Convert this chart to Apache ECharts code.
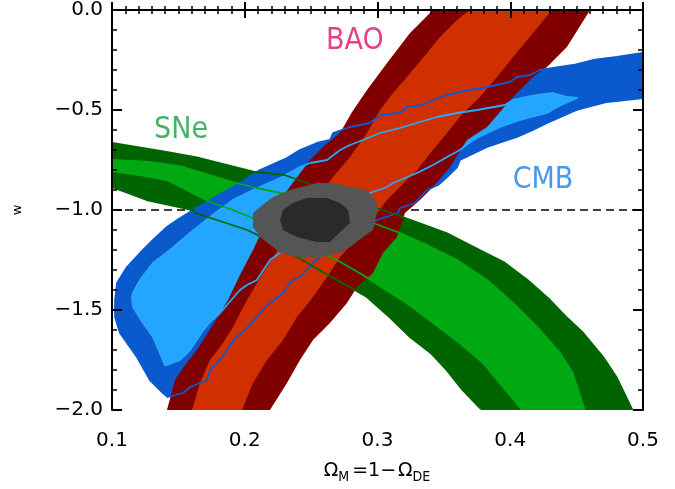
<!DOCTYPE html>
<html><head><meta charset="utf-8">
<script src="https://cdn.jsdelivr.net/npm/echarts@6/dist/echarts.min.js"></script>
<style>html,body{margin:0;padding:0;background:#fff}#c{width:675px;height:489px}</style>
</head><body><div id="c"></div>
<script>
// ---- tick labels ----
var xTicks = [0.1, 0.2, 0.3, 0.4, 0.5];
var xTickLabels = ['0.1', '0.2', '0.3', '0.4', '0.5'];
var yTicks = [-2.0, -1.5, -1.0, -0.5, 0.0];
var yTickLabels = ['\u22122.0', '\u22121.5', '\u22121.0', '\u22120.5', '0.0'];
var refW = -1.0;

// ---- SNe contours [Omega_M, w] ----
var sneOuter = [[0.100,-0.665],[0.141,-0.71],[0.166,-0.74],[0.208,-0.81],[0.230,-0.825],[0.247,-0.865],[0.297,-0.985],[0.319,-1.035],[0.352,-1.115],[0.377,-1.20],[0.395,-1.26],[0.413,-1.35],[0.430,-1.45],[0.443,-1.54],[0.455,-1.615],[0.470,-1.735],[0.480,-1.835],[0.492,-2.0],
  [0.3795,-2.0],[0.377,-1.99],[0.364,-1.90],[0.352,-1.80],[0.340,-1.715],[0.3245,-1.635],[0.309,-1.535],[0.292,-1.435],[0.279,-1.385],[0.272,-1.36],[0.217,-1.15],[0.202,-1.10],[0.179,-1.05],[0.1625,-1.015],[0.161,-1.0],[0.126,-0.95],[0.100,-0.885]];
var sneInner = [[0.100,-0.75],[0.1286,-0.76],[0.1535,-0.785],[0.191,-0.86],[0.209,-0.89],[0.2416,-0.935],[0.2966,-1.065],[0.317,-1.115],[0.334,-1.165],[0.360,-1.25],[0.3825,-1.35],[0.402,-1.465],[0.4224,-1.60],[0.4375,-1.715],[0.447,-1.815],[0.456,-2.0],
  [0.409,-2.0],[0.3945,-1.885],[0.3795,-1.765],[0.362,-1.665],[0.342,-1.565],[0.322,-1.465],[0.304,-1.39],[0.289,-1.325],[0.272,-1.26],[0.206,-1.04],[0.191,-1.0],[0.174,-0.96],[0.1414,-0.85],[0.121,-0.825],[0.100,-0.805]];

// ---- CMB contours ----
var cmbOuter = [[0.142,-1.935],[0.1535,-1.915],[0.159,-1.885],[0.1716,-1.85],[0.174,-1.80],[0.181,-1.75],[0.1866,-1.70],[0.1927,-1.64],[0.1987,-1.61],[0.209,-1.535],[0.219,-1.465],[0.2288,-1.415],[0.2356,-1.35],[0.2416,-1.335],[0.2514,-1.265],[0.2567,-1.235],[0.279,-1.125],[0.2996,-1.05],[0.3154,-1.015],[0.317,-0.99],[0.328,-0.965],[0.3373,-0.90],[0.3456,-0.875],[0.3524,-0.835],[0.360,-0.785],[0.3621,-0.75],[0.3825,-0.685],[0.405,-0.635],[0.417,-0.60],[0.4277,-0.565],[0.450,-0.50],[0.4729,-0.46],[0.500,-0.44],
  [0.500,-0.215],[0.4804,-0.235],[0.4623,-0.25],[0.4473,-0.275],[0.4224,-0.30],[0.4149,-0.325],[0.4051,-0.335],[0.3998,-0.36],[0.3825,-0.385],[0.3621,-0.41],[0.3524,-0.425],[0.3418,-0.45],[0.3343,-0.475],[0.3222,-0.485],[0.3169,-0.515],[0.3019,-0.525],[0.2943,-0.565],[0.2793,-0.585],[0.2665,-0.615],[0.2642,-0.65],[0.2544,-0.665],[0.2416,-0.70],[0.2318,-0.74],[0.2115,-0.80],[0.1964,-0.865],[0.1738,-0.95],[0.161,-1.0],[0.149,-1.05],[0.1414,-1.085],[0.1309,-1.15],[0.1211,-1.215],[0.1113,-1.285],[0.1038,-1.365],[0.1023,-1.45],[0.1023,-1.535],[0.106,-1.615],[0.1188,-1.735],[0.1286,-1.85],[0.1384,-1.915]];
var cmbInner = [[0.1414,-1.775],[0.1512,-1.75],[0.1588,-1.70],[0.1678,-1.61],[0.1738,-1.56],[0.1814,-1.515],[0.1866,-1.475],[0.1964,-1.40],[0.2017,-1.375],[0.2092,-1.35],[0.219,-1.25],[0.2243,-1.225],[0.2567,-1.075],[0.2944,-0.915],[0.3072,-0.885],[0.3117,-0.865],[0.3298,-0.815],[0.3418,-0.775],[0.3524,-0.735],[0.3621,-0.70],[0.3719,-0.65],[0.3825,-0.615],[0.3923,-0.585],[0.4073,-0.55],[0.4277,-0.515],[0.4352,-0.485],[0.4503,-0.44],
  [0.4427,-0.435],[0.4322,-0.415],[0.4202,-0.425],[0.4126,-0.435],[0.4021,-0.45],[0.396,-0.475],[0.375,-0.50],[0.3599,-0.515],[0.3448,-0.535],[0.332,-0.56],[0.317,-0.59],[0.3019,-0.615],[0.2891,-0.65],[0.2793,-0.675],[0.2718,-0.70],[0.262,-0.75],[0.2492,-0.765],[0.2416,-0.785],[0.2266,-0.84],[0.2062,-0.90],[0.1911,-0.95],[0.1738,-1.035],[0.1588,-1.115],[0.1437,-1.20],[0.1309,-1.265],[0.1211,-1.35],[0.1158,-1.415],[0.1151,-1.435],[0.1158,-1.485],[0.1234,-1.565],[0.1309,-1.635],[0.1399,-1.775]];

// ---- BAO contours ----
var baoOuter = [[0.1414,-2.0],[0.1475,-1.85],[0.155,-1.775],[0.164,-1.70],[0.176,-1.575],[0.1874,-1.45],[0.1964,-1.325],[0.2062,-1.20],[0.2153,-1.075],[0.2266,-0.95],[0.2378,-0.85],[0.2492,-0.75],[0.2605,-0.675],[0.2718,-0.615],[0.2808,-0.51],[0.2921,-0.40],[0.3072,-0.265],[0.3245,-0.115],[0.3418,0.0],
  [0.4601,0.0],[0.4427,-0.185],[0.4277,-0.285],[0.4171,-0.335],[0.4021,-0.435],[0.3825,-0.585],[0.3674,-0.65],[0.3546,-0.785],[0.3418,-0.885],[0.332,-0.95],[0.3207,-1.015],[0.3147,-1.135],[0.3041,-1.215],[0.2966,-1.315],[0.2846,-1.385],[0.277,-1.465],[0.2642,-1.565],[0.2514,-1.65],[0.2416,-1.75],[0.2318,-1.865],[0.219,-2.0]];
var baoInner = [[0.1603,-2.0],[0.1663,-1.865],[0.1738,-1.75],[0.1836,-1.665],[0.1911,-1.585],[0.2017,-1.45],[0.2092,-1.365],[0.2168,-1.285],[0.2213,-1.235],[0.2416,-1.05],[0.2665,-0.835],[0.2793,-0.735],[0.2921,-0.615],[0.3019,-0.50],[0.3117,-0.415],[0.3222,-0.335],[0.3373,-0.215],[0.3471,-0.135],[0.3599,-0.05],[0.3697,0.0],
  [0.4315,0.0],[0.4171,-0.115],[0.4021,-0.235],[0.390,-0.335],[0.3772,-0.435],[0.3644,-0.515],[0.3524,-0.615],[0.3418,-0.70],[0.3298,-0.80],[0.3169,-0.885],[0.3072,-0.95],[0.2996,-1.015],[0.2868,-1.125],[0.2718,-1.235],[0.262,-1.335],[0.2514,-1.435],[0.2394,-1.535],[0.2288,-1.65],[0.2168,-1.75],[0.2062,-1.865],[0.1979,-2.0]];

// ---- combined contours ----
var allOuter = [[0.2544,-0.865],[0.2341,-0.90],[0.2213,-0.935],[0.2115,-0.985],[0.2062,-1.015],[0.2062,-1.085],[0.2115,-1.135],[0.2213,-1.185],[0.2266,-1.215],[0.2394,-1.235],[0.2567,-1.235],[0.2718,-1.215],[0.2793,-1.185],[0.2891,-1.135],[0.2966,-1.10],[0.2996,-1.015],[0.2996,-0.965],[0.2921,-0.90],[0.2793,-0.885],[0.2665,-0.865]];
var allInner = [[0.2469,-0.94],[0.2363,-0.965],[0.2288,-1.0],[0.2266,-1.05],[0.2288,-1.10],[0.2394,-1.135],[0.2544,-1.16],[0.2642,-1.16],[0.2718,-1.11],[0.2793,-1.065],[0.2778,-1.0],[0.2718,-0.965],[0.262,-0.94]];

// ---- annotation labels ----
var labelNames = ['SNe', 'BAO', 'CMB'];
var labelPos = [[0.152,-0.60],[0.283,-0.155],[0.4247,-0.85]];
var labelColors = ['#1a9e40', '#e0106a', '#1a7fe6'];

function poly(pts, fill, stroke, lw, z) {
  return {
    type: 'custom', silent: true, z: z, clip: true,
    coordinateSystem: 'cartesian2d',
    data: [pts[0]],
    renderItem: function (params, api) {
      var p = pts.map(function (d) { return api.coord(d); });
      return { type: 'polygon', shape: { points: p },
        style: { fill: fill || 'none', stroke: stroke || 'none', lineWidth: lw || 0, lineJoin: 'round' } };
    }
  };
}

var chart = echarts.init(document.getElementById('c'), null, {renderer: 'canvas'});
var fontNum = 'DejaVu Sans';
var fontLbl = "'DejaVu Sans Condensed', 'Liberation Sans', sans-serif";
var axisCommon = {
  type: 'value', z: 20,
  axisLine: { show: true, lineStyle: { color: '#000', width: 2 } },
  splitLine: { show: false },
  minorSplitLine: { show: false }
};
var opt = {
  animation: false,
  grid: { left: 112, right: 32, top: 10, bottom: 79 },
  xAxis: [
    Object.assign({}, axisCommon, {
      min: 0.1, max: 0.5, interval: 0.1, position: 'bottom',
      axisTick: { inside: true, length: 8, lineStyle: { color: '#000', width: 2 } },
      minorTick: { show: true, splitNumber: 10, length: 4, lineStyle: { color: '#000', width: 1.5 } },
      axisLabel: { margin: 21, color: '#000', fontFamily: fontNum, fontSize: 20,
        formatter: function (v) { var i = Math.round((v - xTicks[0]) / 0.1); return xTickLabels[i]; } },
      name: '{o|\u03A9}{s|M}{n|=1\u2212}{o|\u03A9}{s|DE}',
      nameLocation: 'middle', nameGap: 48,
      nameTextStyle: { rich: {
        o: { fontFamily: fontNum, fontSize: 19, color: '#000', lineHeight: 26, verticalAlign: 'middle' },
        n: { fontFamily: fontNum, fontSize: 19, color: '#000', lineHeight: 26, verticalAlign: 'middle', padding: [0, 2, 0, 2] },
        s: { fontFamily: fontLbl, fontSize: 14, color: '#000', lineHeight: 26, verticalAlign: 'bottom', padding: [0, 1, 0, 0] }
      } }
    }),
    Object.assign({}, axisCommon, {
      min: 0.1, max: 0.5, interval: 0.1, position: 'top',
      axisTick: { inside: true, length: 8, lineStyle: { color: '#000', width: 2 } },
      minorTick: { show: true, splitNumber: 10, length: 4, lineStyle: { color: '#000', width: 1.5 } },
      axisLabel: { show: false }
    })
  ],
  yAxis: [
    Object.assign({}, axisCommon, {
      min: -2, max: 0, interval: 0.5, position: 'left',
      axisTick: { inside: true, length: 10, lineStyle: { color: '#000', width: 2 } },
      minorTick: { show: true, splitNumber: 5, length: 5, lineStyle: { color: '#000', width: 1.5 } },
      axisLabel: { margin: 9, color: '#000', fontFamily: fontNum, fontSize: 20, padding: [6, 0, 0, 0],
        formatter: function (v) { var i = Math.round((v - yTicks[0]) / 0.5); return yTickLabels[i]; } },
      name: 'w', nameLocation: 'middle', nameRotate: 90, nameGap: 88,
      nameTextStyle: { fontFamily: fontNum, fontSize: 13, color: '#000' }
    }),
    Object.assign({}, axisCommon, {
      min: -2, max: 0, interval: 0.5, position: 'right',
      axisTick: { inside: true, length: 10, lineStyle: { color: '#000', width: 2 } },
      minorTick: { show: true, splitNumber: 5, length: 5, lineStyle: { color: '#000', width: 1.5 } },
      axisLabel: { show: false }
    })
  ],
  series: [
    { type: 'line', z: 1, silent: true, symbol: 'none',
      data: [[xTicks[0], refW], [xTicks[xTicks.length - 1], refW]],
      lineStyle: { color: '#000', width: 1.5, type: [8, 5] } },
    poly(sneOuter, '#006400', null, 0, 2),
    poly(sneInner, '#00a812', null, 0, 3),
    poly(cmbOuter, '#0a5acd', null, 0, 4),
    poly(cmbInner, '#22a6ff', null, 0, 5),
    poly(baoOuter, '#800000', null, 0, 6),
    poly(baoInner, '#d03000', null, 0, 7),
    poly(cmbOuter, null, '#0a5ad0', 1.8, 8),
    poly(cmbInner, null, '#2aa8ff', 1.8, 8),
    poly(sneOuter, null, '#006600', 1.8, 9),
    poly(sneInner, null, '#00aa14', 1.8, 9),
    poly(allOuter, '#555555', null, 0, 10),
    poly(allInner, '#2a2a2a', null, 0, 11),
    { type: 'scatter', z: 12, silent: true, symbolSize: 0,
      data: labelPos.map(function (p, i) {
        return { value: p, name: labelNames[i],
          label: { show: true, position: 'inside', formatter: labelNames[i], color: labelColors[i],
            fontFamily: fontLbl, fontSize: 30 } };
      }) }
  ]
};
chart.setOption(opt);
</script>
</body></html>
